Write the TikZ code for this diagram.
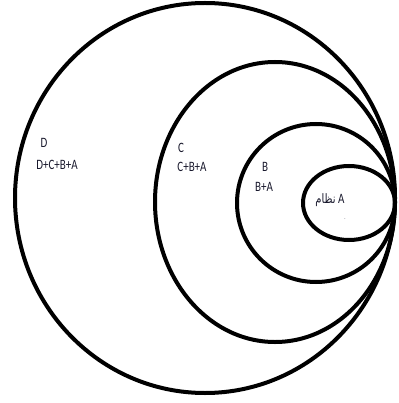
\documentclass[tikz,border=0pt]{standalone}
\usepackage{fontspec}
\setmainfont{Carlito}
\newfontfamily\arabicfont[Script=Arabic]{DejaVu Sans}
\TeXXeTstate=1
\definecolor{lblcol}{RGB}{25,25,45}
\newcommand{\tall}[1]{\scalebox{1}[1.3]{#1}}
\begin{document}
\begin{tikzpicture}[x=1pt,y=-1pt]
\tikzstyle{ring}=[draw,line width=4pt]
\tikzstyle{lbl}=[text=lblcol,inner sep=0pt,font=\fontsize{11}{12}\selectfont]
\useasboundingbox (0,0) rectangle (398,403);

% nested systems, all touching on the right
\foreach \cx/\cy/\rx/\ry in {205/198/190/195, 275/202/120/140,
                             316/203/79/79, 349/203/46/37} {
  \draw[ring] (\cx,\cy) ellipse ({\rx} and {\ry});
}

% D
\node[lbl] (dname) at (44,143) {\tall{D}};
\node[lbl] (dsum) at (57,165) {\tall{D+C+B+A}};
% C
\node[lbl] (cname) at (181,148) {\tall{C}};
\node[lbl] (csum) at (192,167) {\tall{C+B+A}};
% B
\node[lbl] (bname) at (265,167) {\tall{B}};
\node[lbl] (bsum) at (264,187) {\tall{B+A}};
% A
\node[lbl] (aname) at (330,200) {\tall{{\arabicfont\fontsize{10}{11}\selectfont\beginR نظام\endR} A}};
\node[lbl,font=\tiny] (adot) at (345,219) {.};
\end{tikzpicture}
\end{document}
